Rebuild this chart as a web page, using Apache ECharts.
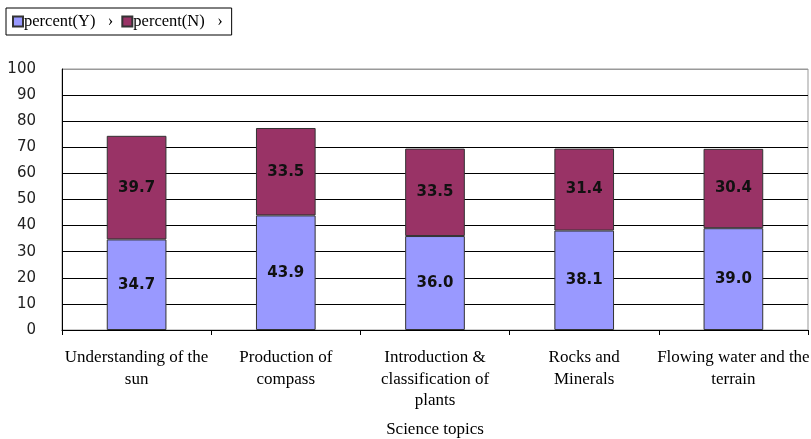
<!DOCTYPE html>
<html>
<head>
<meta charset="utf-8">
<script src="https://cdn.jsdelivr.net/npm/echarts@6/dist/echarts.min.js"></script>
<style>html,body{margin:0;padding:0;background:#fff}#c{width:811px;height:439px}</style>
</head>
<body>
<div id="c"></div>
<script>
var categories = ["Understanding of the\nsun", "Production of\ncompass", "Introduction &\nclassification of\nplants", "Rocks and\nMinerals", "Flowing water and the\nterrain"];
var percentY = [34.7, 43.9, 36.0, 38.1, 39.0];
var percentN = [39.7, 33.5, 33.5, 31.4, 30.4];
var seriesNames = ["percent(Y)", "percent(N)"];
var yTicks = [0, 100, 10];

var chart = echarts.init(document.getElementById('c'));
var splitColors = [];
for (var i = 0; i < 10; i++) splitColors.push('#000');
splitColors.push('#999');
var labelStyle = {
  show: true, position: 'inside', color: '#111',
  fontFamily: 'DejaVu Sans', fontSize: 15, fontWeight: 'bold',
  formatter: function (p) { return p.value.toFixed(1); }
};
chart.setOption({
  animation: false,
  legend: {
    left: 6, top: 8, padding: [5, 9, 5, 6],
    borderColor: '#000', borderWidth: 1,
    itemWidth: 10, itemHeight: 10, itemGap: 8,
    icon: 'rect',
    data: seriesNames,
    formatter: function (n) { return n + '   \u203A'; },
    textStyle: { fontFamily: 'Liberation Serif', fontSize: 16.5, color: '#000', padding: [0, 0, 0, -4] }
  },
  grid: { left: 62, right: 3, top: 69, bottom: 109, show: true, borderColor: '#999', borderWidth: 1, outerBoundsMode: 'none', containLabel: false },
  xAxis: {
    type: 'category', data: categories,
    name: 'Science topics', nameLocation: 'middle', nameGap: 91,
    nameTextStyle: { fontFamily: 'Liberation Serif', fontSize: 17, color: '#000' },
    axisLine: { lineStyle: { color: '#000', width: 1 } },
    axisTick: { show: true, length: 5, lineStyle: { color: '#000' } },
    axisLabel: { interval: 0, fontFamily: 'Liberation Serif', fontSize: 17, color: '#000', margin: 17, lineHeight: 21.5 }
  },
  yAxis: {
    type: 'value', min: yTicks[0], max: yTicks[1], interval: yTicks[2],
    axisLine: { show: true, lineStyle: { color: '#000' } },
    axisTick: { show: false },
    axisLabel: { fontFamily: 'DejaVu Sans', fontSize: 15, color: '#222', margin: 26 },
    splitLine: { show: true, lineStyle: { color: splitColors, width: 1 } }
  },
  series: [
    { name: seriesNames[0], type: 'bar', stack: 'a', data: percentY, barWidth: '40%',
      itemStyle: { color: '#9999FF', borderColor: '#333', borderWidth: 1 }, label: labelStyle },
    { name: seriesNames[1], type: 'bar', stack: 'a', data: percentN, barWidth: '40%',
      itemStyle: { color: '#993366', borderColor: '#333', borderWidth: 1 }, label: labelStyle }
  ]
});
</script>
</body>
</html>
